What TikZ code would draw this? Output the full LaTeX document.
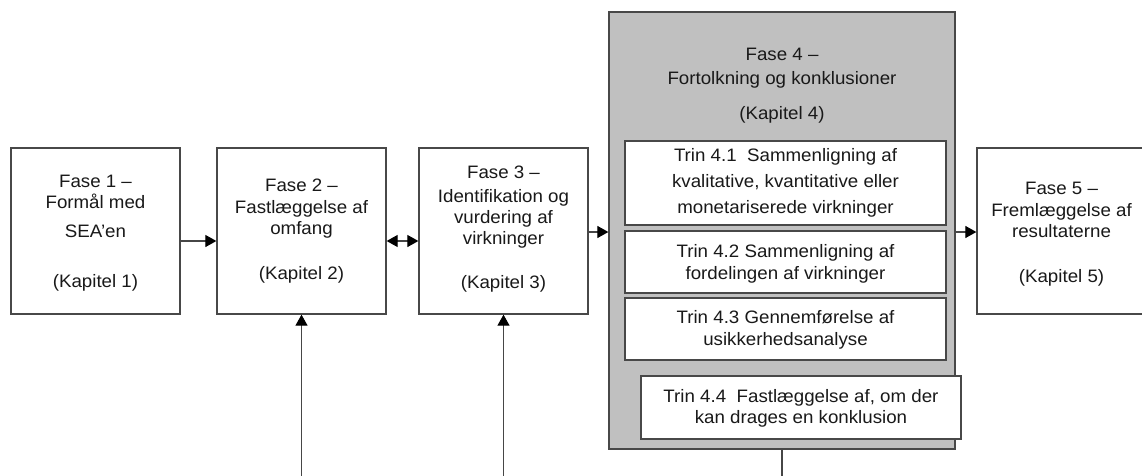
\documentclass[tikz,border=0pt]{standalone}
\usepackage{fontspec}
\setmainfont{Liberation Sans}[FakeStretch=1.04]
\usetikzlibrary{arrows.meta}
\definecolor{edge}{RGB}{72,72,72}
\definecolor{wire}{RGB}{70,70,70}
\definecolor{panel}{RGB}{192,192,192}
\tikzset{
  box/.style={draw=edge, line width=1.3pt, fill=white, inner sep=0pt},
  phasebox/.style={box, minimum width=169pt, minimum height=166pt},
  stepbox/.style={box, minimum width=321pt},
  panelbox/.style={draw=edge, line width=1.3pt, fill=panel, inner sep=0pt,
                   minimum width=346pt, minimum height=437pt},
  txt/.style={anchor=base, inner sep=0pt, text=black!90, font=\fontsize{18}{21}\selectfont},
  wireline/.style={draw=wire, line width=1.1pt},
  tip/.style={Triangle[length=11pt,width=12pt,fill=black,color=black]},
  arr/.style={wireline, -{Triangle[length=11pt,width=12pt,fill=black,color=black]}},
  dblarr/.style={wireline, {Triangle[length=11pt,width=12pt,fill=black,color=black]}-{Triangle[length=11pt,width=12pt,fill=black,color=black]}}
}
\begin{document}
\begin{tikzpicture}[x=1pt, y=-1pt]
\useasboundingbox (0,0) rectangle (1142,476);
\clip (0,0) rectangle (1142,476);

% phase boxes
\node[phasebox] (b1) at (95.5,231) {};
\node[phasebox] (b2) at (301.5,231) {};
\node[phasebox] (b3) at (503.5,231) {};
\node[phasebox] (b5) at (1061.5,231) {};

% phase 4 panel with its steps
\node[panelbox] (g4) at (782,230.5) {};
\node[stepbox, minimum height=84pt] (s1) at (785.5,183) {};
\node[stepbox, minimum height=62pt] (s2) at (785.5,262) {};
\node[stepbox, minimum height=62pt] (s3) at (785.5,329) {};
\node[box, minimum width=320pt, minimum height=63pt] (s4) at (801,407.5) {};

% texts of phase 1
\node[txt] (b1l1) at (95.5,187.5) {Fase 1 –};
\node[txt] (b1l2) at (95.5,208.5) {Formål med};
\node[txt] (b1l3) at (95.5,237.5) {SEA'en};
\node[txt] (b1l4) at (95.5,287) {(Kapitel 1)};

% texts of phase 2
\node[txt] (b2l1) at (301.5,191) {Fase 2 –};
\node[txt] (b2l2) at (301.5,213.5) {Fastlæggelse af};
\node[txt] (b2l3) at (301.5,234.5) {omfang};
\node[txt] (b2l4) at (301.5,279.5) {(Kapitel 2)};

% texts of phase 3
\node[txt] (b3l1) at (503.5,178) {Fase 3 –};
\node[txt] (b3l2) at (503.5,202.5) {Identifikation og};
\node[txt] (b3l3) at (503.5,223.5) {vurdering af};
\node[txt] (b3l4) at (503.5,244.5) {virkninger};
\node[txt] (b3l5) at (503.5,288.5) {(Kapitel 3)};

% texts of phase 4
\node[txt] (g4l1) at (782,60.7) {Fase 4 –};
\node[txt] (g4l2) at (782,84.3) {Fortolkning og konklusioner};
\node[txt] (g4l3) at (782,119.3) {(Kapitel 4)};

\node[txt] (s1l1) at (785.5,161.5) {Trin 4.1\ \ Sammenligning af};
\node[txt] (s1l2) at (785.5,187) {kvalitative, kvantitative eller};
\node[txt] (s1l3) at (785.5,213) {monetariserede virkninger};

\node[txt] (s2l1) at (785.5,257) {Trin 4.2 Sammenligning af};
\node[txt] (s2l2) at (785.5,279) {fordelingen af virkninger};

\node[txt] (s3l1) at (785.5,323) {Trin 4.3 Gennemførelse af};
\node[txt] (s3l2) at (785.5,345) {usikkerhedsanalyse};

\node[txt] (s4l1) at (801,402) {Trin 4.4\ \ Fastlæggelse af, om der};
\node[txt] (s4l2) at (801,423) {kan drages en konklusion};

% texts of phase 5
\node[txt] (b5l1) at (1061.5,194) {Fase 5 –};
\node[txt] (b5l2) at (1061.5,216.5) {Fremlæggelse af};
\node[txt] (b5l3) at (1061.5,237.5) {resultaterne};
\node[txt] (b5l4) at (1061.5,282) {(Kapitel 5)};

% connectors between the phases
\draw[arr] ([yshift=-10pt]b1.east) -- ([yshift=-10pt]b2.west);
\draw[dblarr] ([yshift=-10pt]b2.east) -- ([yshift=-10pt]b3.west);
\draw[arr] ([yshift=-1pt]b3.east) -- ([yshift=-1pt]b3.east -| g4.west);
\draw[arr] ([yshift=-1.5pt]g4.east) -- ([yshift=-1.5pt]g4.east -| b5.west);

% feedback lines from below
\coordinate (f2) at (301.5,476);
\coordinate (f3) at (503.5,476);
\coordinate (f4) at (782,476);
\draw[arr] (f2) -- (b2.south);
\draw[arr] (f3) -- (b3.south);
\draw[wireline] (g4.south) -- (f4);
\end{tikzpicture}
\end{document}
